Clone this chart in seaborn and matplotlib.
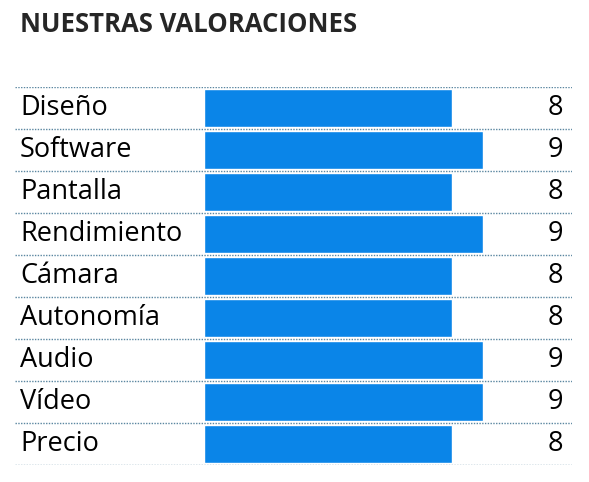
import matplotlib
matplotlib.use("Agg")
import matplotlib.pyplot as plt
import seaborn as sns
import pandas as pd

categories = ["Diseño", "Software", "Pantalla", "Rendimiento", "Cámara", "Autonomía", "Audio", "Vídeo", "Precio"]
scores = [8, 9, 8, 9, 8, 8, 9, 9, 8]
title = "NUESTRAS VALORACIONES"

df = pd.DataFrame({"cat": categories, "score": scores})
sns.set_theme(style="white")
plt.rcParams['font.family'] = ['Open Sans', 'DejaVu Sans']

W, H = 589, 482
fig = plt.figure(figsize=(W/100, H/100), dpi=100)
ax = fig.add_axes([15/W, 1-465/H, (572-15)/W, (465-87)/H])
sns.barplot(data=df, x="score", y="cat", orient="h", color="#0A85E8",
            saturation=1, width=0.9, ax=ax)
unit = 31.0
ax.set_xlim(-(204-15)/unit, (572-204)/unit)
ax.set_ylim(len(categories)-0.5, -0.5)
for i, (c, s) in enumerate(zip(categories, scores)):
    ax.text(-(204-20)/unit, i, c, va="center", ha="left", fontsize=19.5, color="black")
    ax.text((563-204)/unit, i, str(s), va="center", ha="right", fontsize=19.5, color="black")
for b in [k-0.5 for k in range(len(categories)+1)]:
    ax.axhline(b, color="#5a86a0", lw=1, ls=(0, (1, 1)))
ax.axis("off")
fig.text(20/W, 1-24/H, title, fontsize=18.5, fontweight="bold", va="center", ha="left")
fig.savefig("out.png", dpi=100)
